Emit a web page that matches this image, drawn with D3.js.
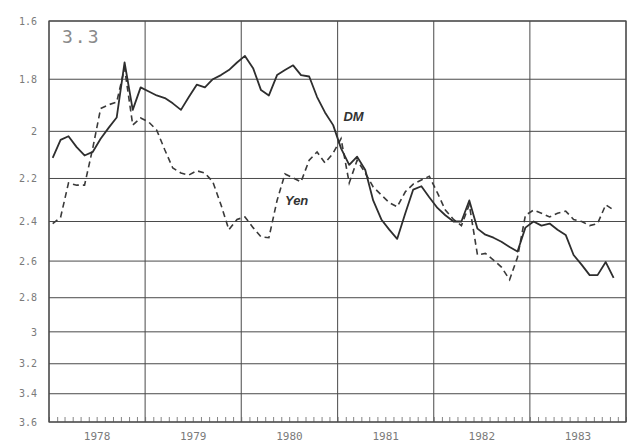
<!DOCTYPE html>
<html>
<head>
<meta charset="utf-8">
<script src="https://cdn.jsdelivr.net/npm/d3@7"></script>
<style>
  html, body { margin: 0; padding: 0; background: #fff; }
  svg { display: block; }
</style>
</head>
<body>
<svg id="chart" width="627" height="444"></svg>
<script>
// Monthly exchange rates, Jan 1978 – Nov 1983 (units per US dollar)
const startYear = 1978;
const years = [1978, 1979, 1980, 1981, 1982, 1983];
const yTicks = [1.6, 1.8, 2, 2.2, 2.4, 2.6, 2.8, 3, 3.2, 3.4, 3.6];

const dm = [
  2.11, 2.035, 2.02, 2.065, 2.10, 2.085, 2.03, 1.985, 1.945, 1.74, 1.915, 1.83,
  1.845, 1.86, 1.87, 1.89, 1.915, 1.866, 1.82, 1.83, 1.80, 1.785, 1.767, 1.74,
  1.717, 1.76, 1.84, 1.86, 1.785, 1.767, 1.75, 1.785, 1.79, 1.866, 1.925, 1.975,
  2.07, 2.14, 2.105, 2.163, 2.30, 2.39, 2.44, 2.486, 2.36, 2.25, 2.235, 2.285,
  2.335, 2.37, 2.40, 2.40, 2.30, 2.435, 2.465, 2.48, 2.50, 2.527, 2.55, 2.43,
  2.40, 2.42, 2.41, 2.44, 2.466, 2.568, 2.62, 2.675, 2.675, 2.605, 2.69
];

// Yen in hundreds per dollar
const yen = [
  2.41, 2.38, 2.22, 2.23, 2.23, 2.07, 1.91, 1.895, 1.885, 1.76, 1.975, 1.947,
  1.963, 1.995, 2.077, 2.154, 2.176, 2.185, 2.166, 2.176, 2.215, 2.32, 2.44, 2.39,
  2.378, 2.43, 2.476, 2.48, 2.30, 2.18, 2.198, 2.215, 2.12, 2.085, 2.132, 2.09,
  2.03, 2.22, 2.12, 2.176, 2.238, 2.275, 2.31, 2.33, 2.26, 2.225, 2.207, 2.19,
  2.265, 2.345, 2.39, 2.42, 2.32, 2.568, 2.56, 2.595, 2.632, 2.70, 2.58, 2.37,
  2.345, 2.36, 2.378, 2.36, 2.35, 2.39, 2.40, 2.42, 2.41, 2.32, 2.345
];

const seriesLabels = [
  { name: "DM", month: 36.3, value: 1.96 },
  { name: "Yen", month: 29, value: 2.32 }
];

const margin = { left: 49, right: 1, top: 21, bottom: 22 };
const W = 627, H = 444;
const svg = d3.select("#chart");

// Month index -> time (plotted at mid-month)
const monthDate = m => new Date(startYear, 0, 15 + m * 30.44);

const x = d3.scaleTime()
  .domain([new Date(startYear, 0, 1), new Date(startYear + years.length, 0, 1)])
  .range([margin.left, W - margin.right]);

const y = d3.scaleLog()
  .domain([1.6, 3.6])
  .range([margin.top, H - margin.bottom]);

const gridColor = "#4a4a4a";
const labelColor = "#7a7a7a";

// Horizontal grid lines
svg.append("g")
  .selectAll("line")
  .data(yTicks)
  .join("line")
  .attr("x1", margin.left).attr("x2", W - margin.right)
  .attr("y1", d => y(d)).attr("y2", d => y(d))
  .attr("stroke", gridColor).attr("stroke-width", 1);

// Vertical year lines
const yearBounds = d3.range(startYear, startYear + years.length + 1).map(yr => new Date(yr, 0, 1));
svg.append("g")
  .selectAll("line")
  .data(yearBounds)
  .join("line")
  .attr("x1", d => x(d)).attr("x2", d => x(d))
  .attr("y1", margin.top).attr("y2", H - margin.bottom)
  .attr("stroke", gridColor).attr("stroke-width", 1);

// Monthly minor ticks on the bottom axis
const xAxis = d3.axisBottom(x)
  .ticks(d3.timeMonth.every(1))
  .tickSizeInner(-5)
  .tickSizeOuter(0)
  .tickFormat("");
const gx = svg.append("g")
  .attr("transform", `translate(0,${H - margin.bottom})`)
  .call(xAxis);
gx.select(".domain").remove();
gx.selectAll(".tick line").attr("stroke", "#666").attr("stroke-width", 0.8);

// Year labels centred in each year
svg.append("g")
  .selectAll("text")
  .data(years)
  .join("text")
  .attr("x", d => (x(new Date(d, 0, 1)) + x(new Date(d + 1, 0, 1))) / 2)
  .attr("y", 440)
  .attr("text-anchor", "middle")
  .attr("font-family", "DejaVu Sans Mono, monospace")
  .attr("font-size", 11)
  .attr("fill", labelColor)
  .text(d => d);

// Y axis labels
const yAxis = d3.axisLeft(y)
  .tickValues(yTicks)
  .tickSize(0)
  .tickPadding(12)
  .tickFormat(d => String(d));
const gy = svg.append("g")
  .attr("transform", `translate(${margin.left},0)`)
  .call(yAxis);
gy.select(".domain").remove();
gy.selectAll("text")
  .attr("font-family", "DejaVu Sans Mono, monospace")
  .attr("font-size", 10)
  .attr("fill", labelColor);

// Outer frame
svg.append("rect")
  .attr("x", margin.left).attr("y", margin.top)
  .attr("width", W - margin.right - margin.left)
  .attr("height", H - margin.bottom - margin.top)
  .attr("fill", "none").attr("stroke", gridColor).attr("stroke-width", 1.2);

// Series lines
const line = d3.line()
  .x((d, i) => x(monthDate(i)))
  .y(d => y(d));

svg.append("path")
  .datum(yen)
  .attr("d", line)
  .attr("fill", "none")
  .attr("stroke", "#3a3a3a")
  .attr("stroke-width", 1.6)
  .attr("stroke-dasharray", "6,4");

svg.append("path")
  .datum(dm)
  .attr("d", line)
  .attr("fill", "none")
  .attr("stroke", "#2e2e2e")
  .attr("stroke-width", 1.8)
  .attr("stroke-linejoin", "round");

// Series names
svg.append("g")
  .selectAll("text")
  .data(seriesLabels)
  .join("text")
  .attr("x", d => x(monthDate(d.month)))
  .attr("y", d => y(d.value))
  .attr("font-family", "Liberation Sans, Arial, sans-serif")
  .attr("font-weight", "bold")
  .attr("font-style", "italic")
  .attr("font-size", 13)
  .attr("fill", "#333")
  .text(d => d.name);

// Figure number
svg.append("text")
  .attr("x", 62).attr("y", 43)
  .attr("font-family", "DejaVu Sans Mono, monospace")
  .attr("font-size", 18)
  .attr("letter-spacing", 2)
  .attr("fill", "#8a8a8a")
  .text("3.3");
</script>
</body>
</html>
